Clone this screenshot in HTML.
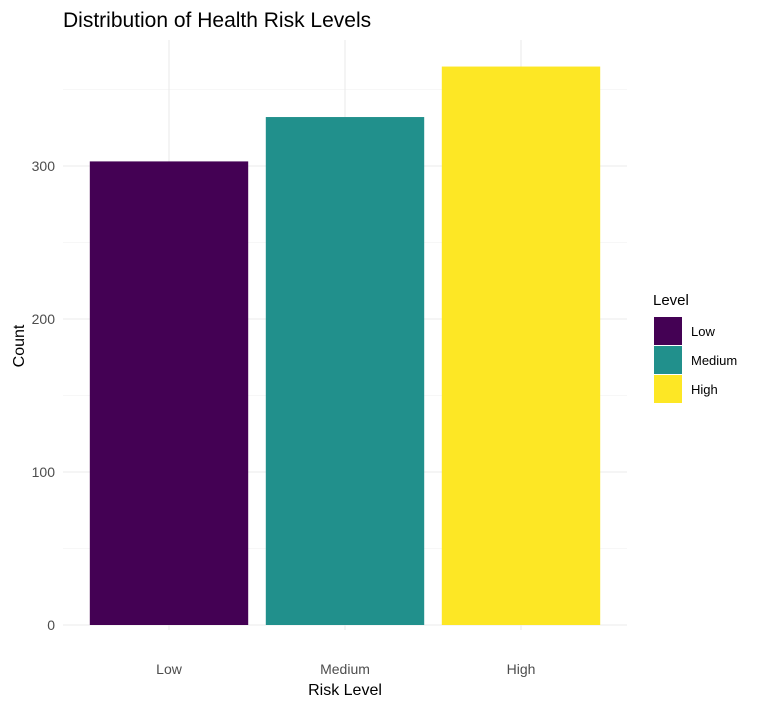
<!DOCTYPE html>
<html><head><meta charset="utf-8"><style>
body{margin:0;background:#fff;}
svg{display:block;font-family:"Liberation Sans",sans-serif;}
</style></head><body>
<svg id="chart" width="761" height="708" viewBox="0 0 761 708">
<rect width="761" height="708" fill="#fff"/>
<text x="63" y="27" font-size="21" fill="#000">Distribution of Health Risk Levels</text>
<g id="grid"></g>
<g id="bars"></g>
<g id="axes"></g>
<text x="345" y="695" font-size="16" text-anchor="middle" fill="#000">Risk Level</text>
<text transform="translate(24,346) rotate(-90)" font-size="16" text-anchor="middle" fill="#000">Count</text>
<g id="legend">
<text x="653" y="305" font-size="15" fill="#000">Level</text>
</g>
</svg>
<script>
const categories = ["Low","Medium","High"];
const counts = [303, 332, 365];
const colors = ["#440154","#21908C","#FDE725"];
const yTicks = [0,100,200,300];
const yMinor = [50,150,250,350];

const NS="http://www.w3.org/2000/svg";
const gx0=63, gx1=627, x0=81, x1=609, yBase=625, pxPer=1.53;
const band=(x1-x0)/categories.length;
function xCenter(i){return x0+band*(i+0.5);}
function yScale(v){return yBase-v*pxPer;}
function mk(tag,attrs,parent){const e=document.createElementNS(NS,tag);for(const k in attrs)e.setAttribute(k,attrs[k]);parent.appendChild(e);return e;}
const grid=document.getElementById('grid'),bars=document.getElementById('bars'),axes=document.getElementById('axes'),legend=document.getElementById('legend');
yMinor.forEach(v=>{const l=mk('line',{x1:gx0,x2:gx1,y1:yScale(v),y2:yScale(v),stroke:'#f0f0f0','stroke-width':0.6},grid);

});
yTicks.forEach(v=>{const l=mk('line',{x1:gx0,x2:gx1,y1:yScale(v),y2:yScale(v),stroke:'#ebebeb','stroke-width':1.1},grid);


const t=mk('text',{x:55,y:yScale(v)+5,'font-size':14,'text-anchor':'end',fill:'#4d4d4d'},axes);t.textContent=v;

});
categories.forEach((c,i)=>{const l=mk('line',{x1:xCenter(i),x2:xCenter(i),y1:40,y2:yBase+5,stroke:'#ebebeb','stroke-width':1.1},grid);


const w=band*0.9;
const r=mk('rect',{x:xCenter(i)-w/2,y:yScale(counts[i]),width:w,height:yBase-yScale(counts[i]),fill:colors[i]},bars);


const t=mk('text',{x:xCenter(i),y:674,'font-size':14,'text-anchor':'middle',fill:'#4d4d4d'},axes);t.textContent=c;


const k=mk('rect',{x:654,y:317+i*29,width:28,height:28,fill:colors[i]},legend);


const lt=mk('text',{x:691,y:336+i*29,'font-size':13,fill:'#000'},legend);lt.textContent=c;

});
</script>
</body></html>
